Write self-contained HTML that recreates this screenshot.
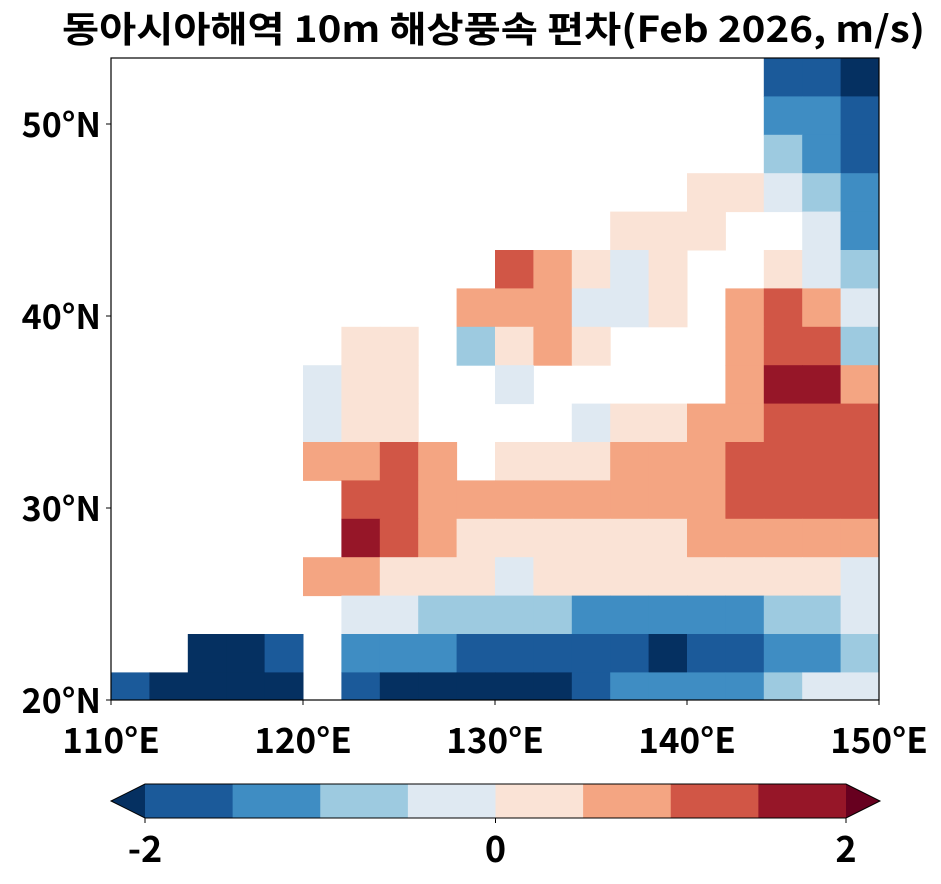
<!DOCTYPE html>
<html><head><meta charset="utf-8">
<style>
body{margin:0;background:#fff;width:941px;height:879px;overflow:hidden;font-family:"Noto Sans CJK KR","Liberation Sans",sans-serif;}
svg text{font-family:"Noto Sans CJK KR","Liberation Sans",sans-serif;font-weight:bold;}
</style></head>
<body>
<svg id="chart" width="941" height="879" viewBox="0 0 941 879" xmlns="http://www.w3.org/2000/svg">
<text x="62" y="42" font-size="36" textLength="863" lengthAdjust="spacingAndGlyphs" fill="#000">동아시아해역 10m 해상풍속 편차(Feb 2026, m/s)</text>
<g id="cells"></g>
<rect x="111" y="58" width="768" height="642" fill="none" stroke="#000" stroke-width="1.2"/>
<g id="axes"></g>
<g id="cbar"></g>
</svg>
<script>
const lonTicks=[110,120,130,140,150];
const latTicks=[20,30,40,50];
const levels=[-2,-1.5,-1,-0.5,0,0.5,1,1.5,2];
const colors=["#053061","#1b5a9a","#3f8dc3","#9dcae0","#dfe9f2","#fae3d6","#f4a582","#d15646","#961628","#67001f"];
const cbarTicks=[-2,0,2];
const N=null;
// 2-degree grid, rows from north (center lat 52.4 - 2r), cols from 110E
const grid=[
[N,N,N,N,N,N,N,N,N,N,N,N,N,N,N,N,N,-1.7,-1.8,-2.2],
[N,N,N,N,N,N,N,N,N,N,N,N,N,N,N,N,N,-1.2,-1.3,-1.7],
[N,N,N,N,N,N,N,N,N,N,N,N,N,N,N,N,N,-0.7,-1.2,-1.7],
[N,N,N,N,N,N,N,N,N,N,N,N,N,N,N,0.2,0.2,-0.3,-0.8,-1.2],
[N,N,N,N,N,N,N,N,N,N,N,N,N,0.2,0.2,0.2,N,N,-0.3,-1.2],
[N,N,N,N,N,N,N,N,N,N,1.2,0.7,0.2,-0.3,0.2,N,N,0.3,-0.3,-0.8],
[N,N,N,N,N,N,N,N,N,0.7,0.7,0.7,-0.3,-0.3,0.2,N,0.7,1.2,0.7,-0.3],
[N,N,N,N,N,N,0.2,0.2,N,-0.6,0.2,0.7,0.3,N,N,N,0.7,1.2,1.2,-0.8],
[N,N,N,N,N,-0.3,0.2,0.2,N,N,-0.3,N,N,N,N,N,0.7,1.8,1.7,0.7],
[N,N,N,N,N,-0.3,0.4,0.3,N,N,N,N,-0.2,0.3,0.2,0.7,0.9,1.2,1.4,1.2],
[N,N,N,N,N,0.7,0.7,1.2,0.7,N,0.2,0.3,0.3,0.7,0.7,0.7,1.2,1.2,1.2,1.2],
[N,N,N,N,N,N,1.2,1.3,0.7,0.7,0.7,0.7,0.7,0.7,0.7,0.7,1.2,1.2,1.2,1.2],
[N,N,N,N,N,N,1.8,1.2,0.7,0.3,0.3,0.3,0.3,0.3,0.3,0.7,0.7,0.7,0.7,0.7],
[N,N,N,N,N,0.7,0.7,0.3,0.2,0.2,-0.3,0.2,0.2,0.2,0.2,0.2,0.2,0.2,0.2,-0.3],
[N,N,N,N,N,N,-0.3,-0.3,-0.6,-0.8,-0.8,-0.8,-1.2,-1.2,-1.2,-1.2,-1.2,-0.8,-0.8,-0.3],
[N,N,-2.2,-2.2,-1.7,N,-1.2,-1.2,-1.2,-1.7,-1.7,-1.7,-1.7,-1.7,-2.2,-1.7,-1.7,-1.2,-1.2,-0.8],
[-1.7,-2.2,-2.2,-2.2,-2.2,N,-1.7,-2.2,-2.2,-2.2,-2.2,-2.2,-1.7,-1.2,-1.2,-1.2,-1.2,-0.8,-0.3,-0.3]
];
const NS="http://www.w3.org/2000/svg";
const X0=111,X1=879,Y0=58,Y1=700;
const lonMin=110,lonMax=150,latMin=20,latMax=20+(Y1-Y0)/19.2;
function xs(lon){return X0+(lon-lonMin)/(lonMax-lonMin)*(X1-X0);}
function ys(lat){return Y1-(lat-latMin)/(latMax-latMin)*(Y1-Y0);}
function colorOf(v){let i=0;while(i<levels.length&&v>=levels[i])i++;return colors[i];}
const cells=document.getElementById('cells');
grid.forEach((row,r)=>{row.forEach((v,c)=>{
  if(v===null)return;
  const latTop=latMax-2*r, latBot=Math.max(latMin,latMax-2*(r+1));
  const rc=document.createElementNS(NS,'rect');
  
  
  rc.setAttribute('x',xs(lonMin+2*c));rc.setAttribute('y',ys(latTop));
  rc.setAttribute('width',xs(lonMin+2*c+2)-xs(lonMin+2*c)+0.5);
  rc.setAttribute('height',ys(latBot)-ys(latTop)+0.5);
  rc.setAttribute('fill',colorOf(v));
  cells.appendChild(rc);
});});
const axes=document.getElementById('axes');
lonTicks.forEach(l=>{
  const t=document.createElementNS(NS,'text');
  
  
  t.setAttribute('x',xs(l));t.setAttribute('y',753);t.setAttribute('font-size','35');
  t.setAttribute('text-anchor','middle');t.textContent=l+'°E';axes.appendChild(t);
  const k=document.createElementNS(NS,'line');
  
  
  k.setAttribute('x1',xs(l));k.setAttribute('x2',xs(l));k.setAttribute('y1',700);k.setAttribute('y2',705);k.setAttribute('stroke','#000');axes.appendChild(k);
});
latTicks.forEach(l=>{
  const t=document.createElementNS(NS,'text');
  
  
  t.setAttribute('x',101);t.setAttribute('y',ys(l)+13);t.setAttribute('font-size','34');
  t.setAttribute('text-anchor','end');t.textContent=l+'°N';axes.appendChild(t);
  const k=document.createElementNS(NS,'line');
  
  
  k.setAttribute('x1',106);k.setAttribute('x2',111);k.setAttribute('y1',ys(l));k.setAttribute('y2',ys(l));k.setAttribute('stroke','#000');axes.appendChild(k);
});
const cb=document.getElementById('cbar');
const CB0=145,CB1=846,CBy=784,CBh=34;
function cx(v){return CB0+(v-levels[0])/(levels[levels.length-1]-levels[0])*(CB1-CB0);}
for(let i=0;i<levels.length-1;i++){
  const r=document.createElementNS(NS,'rect');
  
  
  r.setAttribute('x',cx(levels[i]));r.setAttribute('y',CBy);
  r.setAttribute('width',cx(levels[i+1])-cx(levels[i])+0.5);r.setAttribute('height',CBh);
  r.setAttribute('fill',colors[i+1]);cb.appendChild(r);
}
const lt=document.createElementNS(NS,'polygon');


lt.setAttribute('points',`${CB0},${CBy} 111,${CBy+CBh/2} ${CB0},${CBy+CBh}`);lt.setAttribute('fill',colors[0]);cb.appendChild(lt);
const rt=document.createElementNS(NS,'polygon');


rt.setAttribute('points',`${CB1},${CBy} 880,${CBy+CBh/2} ${CB1},${CBy+CBh}`);rt.setAttribute('fill',colors[colors.length-1]);cb.appendChild(rt);
const ol=document.createElementNS(NS,'polygon');


ol.setAttribute('points',`${CB0},${CBy} ${CB1},${CBy} 880,${CBy+CBh/2} ${CB1},${CBy+CBh} ${CB0},${CBy+CBh} 111,${CBy+CBh/2}`);
ol.setAttribute('fill','none');ol.setAttribute('stroke','#000');ol.setAttribute('stroke-width','1');cb.appendChild(ol);
cbarTicks.forEach(v=>{
  const t=document.createElementNS(NS,'text');
  
  
  t.setAttribute('x',cx(v));t.setAttribute('y',862);t.setAttribute('font-size','36');
  t.setAttribute('text-anchor','middle');t.textContent=String(v);cb.appendChild(t);
  const k=document.createElementNS(NS,'line');
  
  
  k.setAttribute('x1',cx(v));k.setAttribute('x2',cx(v));k.setAttribute('y1',CBy+CBh);k.setAttribute('y2',CBy+CBh+5);k.setAttribute('stroke','#000');cb.appendChild(k);
});
</script>
</body></html>
